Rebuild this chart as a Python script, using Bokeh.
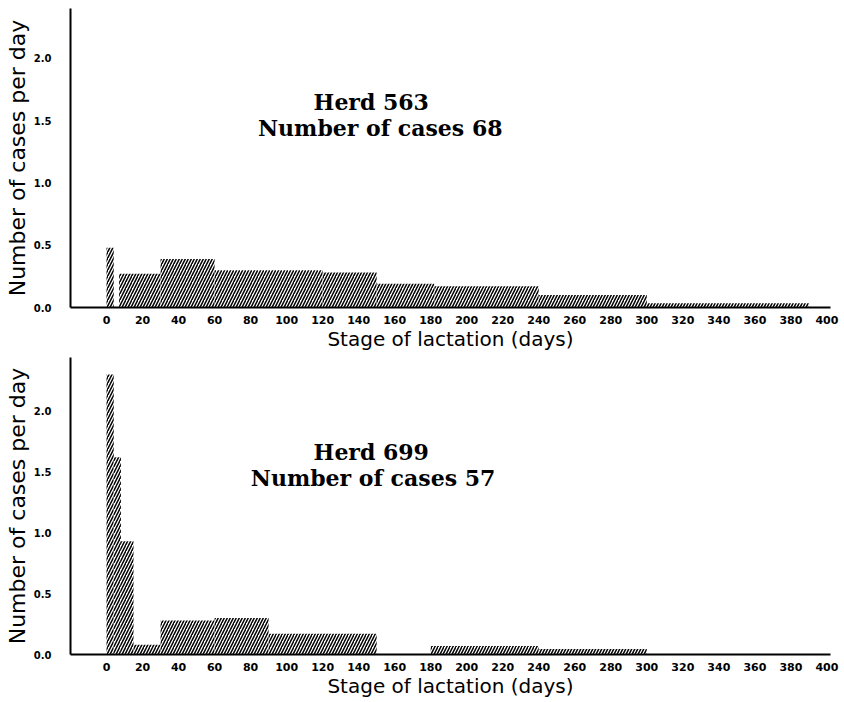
from bokeh.plotting import figure
from bokeh.layouts import column
from bokeh.models import FixedTicker, PrintfTickFormatter, Label, ColumnDataSource
from bokeh.embed import file_html
from bokeh.resources import INLINE

# Herd 563: class intervals (days in milk) and cases per day
herd563_start = [0, 7, 30, 60, 120, 150, 182, 240, 300]
herd563_end = [4, 30, 60, 120, 150, 182, 240, 300, 390]
herd563_rate = [0.48, 0.27, 0.39, 0.30, 0.28, 0.19, 0.17, 0.10, 0.035]

# Herd 699
herd699_start = [0, 4, 8, 15, 30, 60, 90, 180, 240]
herd699_end = [4, 8, 15, 30, 60, 90, 150, 240, 300]
herd699_rate = [2.30, 1.62, 0.93, 0.08, 0.28, 0.30, 0.17, 0.07, 0.045]

x_ticks = list(range(0, 401, 20))
y_ticks = [0.0, 0.5, 1.0, 1.5, 2.0]

SANS = "DejaVu Sans"
SERIF = "DejaVu Serif"


def panel(start, end, rate, herd, cases, y_top, frame_h, b_top, b_bottom,
          t1, t2):
    p = figure(frame_width=760, frame_height=frame_h,
               x_range=(-20, 402), y_range=(0, y_top),
               output_backend="svg", toolbar_location=None,
               min_border_left=70, min_border_right=14,
               min_border_top=b_top, min_border_bottom=b_bottom)
    src = ColumnDataSource(dict(left=start, right=end, top=rate,
                                bottom=[0] * len(rate)))
    p.quad(left="left", right="right", top="top", bottom="bottom", source=src,
           fill_color="white", line_color=None,
           hatch_pattern="/", hatch_color="black",
           hatch_scale=6, hatch_weight=1.5)

    p.xgrid.visible = False
    p.ygrid.visible = False
    p.outline_line_color = None

    for ax in (p.xaxis[0], p.yaxis[0]):
        ax.axis_line_width = 2
        ax.axis_line_color = "black"
        ax.major_tick_line_color = None
        ax.minor_tick_line_color = None
        ax.major_label_text_font = SANS
        ax.major_label_text_font_style = "bold"
        ax.major_label_text_font_size = "11px"
        ax.major_label_text_color = "black"
        ax.axis_label_text_font = SANS
        ax.axis_label_text_font_style = "normal"
        ax.axis_label_text_color = "black"

    p.xaxis.ticker = FixedTicker(ticks=x_ticks)
    p.xaxis.major_label_standoff = 2
    p.xaxis.axis_label = "Stage of lactation (days)"
    p.xaxis.axis_label_text_font_size = "20px"
    p.xaxis.axis_label_standoff = 0

    p.yaxis.ticker = FixedTicker(ticks=y_ticks)
    p.yaxis.formatter = PrintfTickFormatter(format="%.1f")
    p.yaxis.major_label_standoff = 13
    p.yaxis.major_label_text_font_size = "10px"
    p.yaxis.axis_label = "Number of cases per day"
    p.yaxis.axis_label_text_font_size = "22px"
    p.yaxis.axis_label_standoff = 1

    for (x, y), txt in ((t1, "Herd %d" % herd), (t2, "Number of cases %d" % cases)):
        p.add_layout(Label(x=x, y=y, text=txt, text_font=SERIF,
                           text_font_style="bold", text_font_size="22px",
                           text_align="center", text_baseline="middle",
                           text_color="black"))
    return p


top = panel(herd563_start, herd563_end, herd563_rate, 563, 68,
            y_top=2.4, frame_h=299, b_top=8, b_bottom=40,
            t1=(147, 1.65), t2=(152, 1.44))
bottom = panel(herd699_start, herd699_end, herd699_rate, 699, 57,
               y_top=2.44, frame_h=297, b_top=4, b_bottom=44,
               t1=(147, 1.66), t2=(148, 1.45))

layout = column(top, bottom, spacing=0)
open("out.html", "w").write(file_html(layout, INLINE))
